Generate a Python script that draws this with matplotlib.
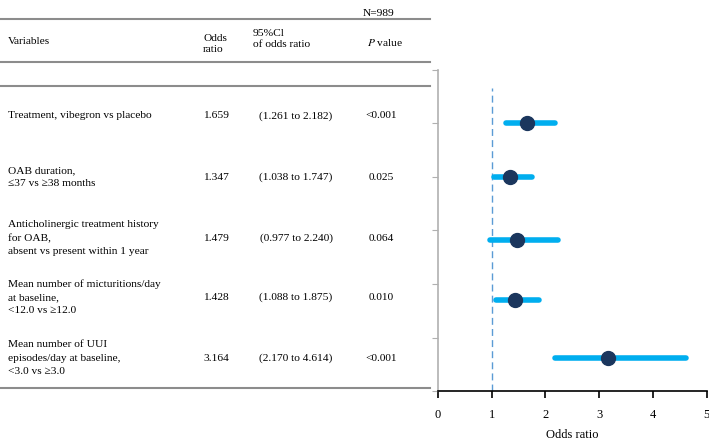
import matplotlib.pyplot as plt

plt.rcParams['font.family'] = ['Liberation Serif', 'DejaVu Serif']
plt.rcParams['mathtext.fontset'] = 'stix'

# data
variables = [
    "Treatment, vibegron vs placebo",
    "OAB duration,\n\u226437 vs \u226538 months",
    "Anticholinergic treatment history\nfor OAB,\nabsent vs present within 1 year",
    "Mean number of micturitions/day\nat baseline,\n<12.0 vs \u226512.0",
    "Mean number of UUI\nepisodes/day at baseline,\n<3.0 vs \u22653.0",
]
odds = [1.659, 1.347, 1.479, 1.428, 3.164]
ci_low = [1.261, 1.038, 0.977, 1.088, 2.170]
ci_high = [2.182, 1.747, 2.240, 1.875, 4.614]
p_values = ["<0.001", "0.025", "0.064", "0.010", "<0.001"]
row_pos = [5.0, 4.0, 2.82, 1.70, 0.62]

W, H = 709, 444
fig = plt.figure(figsize=(W / 100, H / 100), dpi=100)

# forest plot
ax = fig.add_axes([438 / W, 1 - 391 / H, (706.5 - 438) / W, (391 - 70) / H])
ax.axvline(1, ymin=0, ymax=(391 - 88) / (391 - 70), color='#5b9bd5',
           lw=1, ls=(0, (5, 3)))
for y, o, lo, hi in zip(row_pos, odds, ci_low, ci_high):
    ax.plot([lo, hi], [y, y], color='#00aeef', lw=4, solid_capstyle='round', zorder=2)
    ax.plot(o, y, 'o', color='#1b365d', ms=10, zorder=3)
ax.set_xlim(0, 5)
ax.set_ylim(0, 6)
ax.set_xticks(range(6))
ax.set_yticks(range(7))
ax.set_yticklabels([])
ax.spines['top'].set_visible(False)
ax.spines['right'].set_visible(False)
ax.spines['left'].set_color('#b0b0b0')
ax.spines['left'].set_linewidth(1.2)
ax.spines['bottom'].set_linewidth(1.2)
ax.tick_params(axis='y', colors='#b0b0b0', length=4)
ax.tick_params(axis='x', length=5, labelsize=9, pad=8, width=1.2)
ax.set_xlabel("Odds ratio", fontsize=9, labelpad=6)

# table
def fx(x):
    return x / W

def fy(y):
    return 1 - y / H

fs = 8.2
for y in [19, 62, 86, 388]:
    fig.add_artist(plt.Line2D([0, fx(430)], [fy(y), fy(y)], color='#8c8c8c', lw=1.5))

fig.text(fx(379), fy(13), "N=989", fontsize=fs, ha='center', va='center')
fig.text(fx(8), fy(42), "Variables", fontsize=fs, va='center')
fig.text(fx(203), fy(44), "Odds\nratio", fontsize=fs, va='center', linespacing=1.3)
fig.text(fx(253), fy(39), "95%Cl\nof odds ratio", fontsize=fs, va='center', linespacing=1.3)
fig.text(fx(385), fy(43), "$\\mathit{P}$ value", fontsize=fs, ha='center', va='center')

row_px = [116, 177, 238, 297, 358]
for yp, v, o, lo, hi, p in zip(row_px, variables, odds, ci_low, ci_high, p_values):
    fig.text(fx(8), fy(yp), v, fontsize=fs, va='center', linespacing=1.6)
    fig.text(fx(216), fy(yp), f"{o:.3f}", fontsize=fs, ha='center', va='center')
    fig.text(fx(296), fy(yp), f"({lo:.3f} to {hi:.3f})", fontsize=fs, ha='center', va='center')
    fig.text(fx(381), fy(yp), p, fontsize=fs, ha='center', va='center')

fig.savefig('out.png', dpi=100)
